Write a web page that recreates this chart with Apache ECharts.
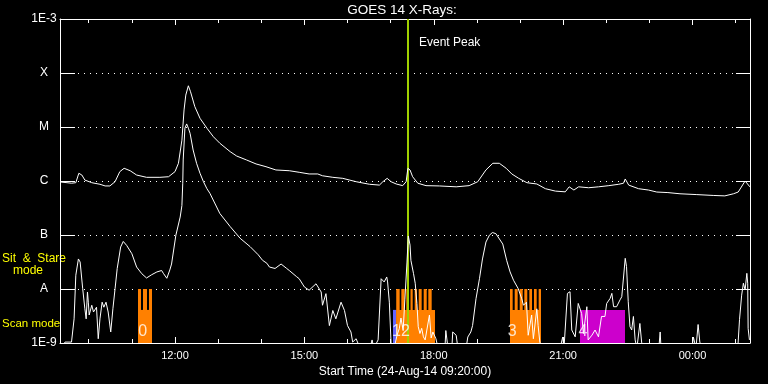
<!DOCTYPE html>
<html><head><meta charset="utf-8">
<script src="https://cdn.jsdelivr.net/npm/echarts@6/dist/echarts.min.js"></script>
<style>html,body{margin:0;padding:0;background:#000;}#c{width:768px;height:384px;}</style>
</head><body><div id="c"></div>
<script>
// ---------- axes / labels ----------
const startHour = 9 + 20 / 60;          // 09:20
const endHour = startHour + 16;          // 01:20 next day
const eventPeakHour = 17.396;
const majorTickHours = [12, 15, 18, 21, 24];
const majorTickLabels = ['12:00', '15:00', '18:00', '21:00', '00:00'];
const minorTickHours = [10, 11, 12, 13, 14, 15, 16, 17, 18, 19, 20, 21, 22, 23, 24, 25];
const yMin = 1e-9, yMax = 1e-3;
const yTickLabels = ['1E-9', 'A', 'B', 'C', 'M', 'X', '1E-3'];
const titleText = 'GOES 14 X-Rays:';
const xAxisTitle = 'Start Time (24-Aug-14 09:20:00)';
const eventText = 'Event Peak';
const modeText1 = 'Sit  &  Stare';
const modeText2 = 'mode';
const modeText3 = 'Scan mode';

// ---------- long channel (upper curve) ----------
const upperT = [9.34,9.60,9.70,9.77,9.84,9.91,10.07,10.26,10.38,10.49,
 10.61,10.72,10.82,10.96,11.11,11.34,11.65,11.85,12.00,12.08,
 12.16,12.21,12.25,12.31,12.36,12.46,12.58,12.74,12.89,13.04,
 13.28,13.43,13.66,13.88,14.11,14.34,14.65,14.88,15.11,15.31,
 15.42,15.66,15.89,16.20,16.51,16.74,16.82,16.92,17.01,17.13,
 17.28,17.36,17.40,17.45,17.51,17.63,17.82,18.13,18.52,18.82,
 19.02,19.21,19.37,19.52,19.68,19.81,19.97,20.16,20.39,20.59,
 20.82,21.05,21.14,21.25,21.36,21.59,21.82,22.06,22.29,22.40,
 22.44,22.52,22.75,22.98,23.17,23.43,23.71,24.10,24.48,24.75,
 24.95,25.06,25.22,25.33];
const upperV = [9.6e-7,9.1e-7,9.3e-7,1.39e-6,1.29e-6,1.04e-6,9.3e-7,8.7e-7,8.1e-7,8.1e-7,
 9.7e-7,1.49e-6,1.72e-6,1.55e-6,1.29e-6,1.17e-6,1.17e-6,1.20e-6,1.49e-6,2.13e-6,
 5.7e-6,2.07e-5,3.9e-5,5.8e-5,4.5e-5,2.38e-5,1.45e-5,9.5e-6,6.6e-6,5.0e-6,
 3.49e-6,2.9e-6,2.45e-6,2.07e-6,1.84e-6,1.60e-6,1.55e-6,1.45e-6,1.35e-6,1.35e-6,
 1.25e-6,1.17e-6,1.12e-6,9.7e-7,8.7e-7,8.4e-7,9.7e-7,1.12e-6,9.7e-7,8.8e-7,
 8.2e-7,9.7e-7,1.72e-6,1.60e-6,1.20e-6,9.1e-7,8.2e-7,8.1e-7,7.8e-7,8.2e-7,
 9.7e-7,1.60e-6,2.13e-6,2.13e-6,1.72e-6,1.35e-6,1.12e-6,9.3e-7,8.8e-7,7.2e-7,
 6.5e-7,6.3e-7,7.8e-7,6.8e-7,7.8e-7,7.5e-7,7.8e-7,8.2e-7,8.7e-7,9.1e-7,
 1.09e-6,8.4e-7,7.2e-7,6.8e-7,6.25e-7,6.1e-7,5.8e-7,5.6e-7,5.4e-7,5.3e-7,
 5.8e-7,6.25e-7,1.0e-6,7.8e-7];

// ---------- short channel (lower curve) ----------
const lowerT = [9.33,9.45,9.60,9.66,9.70,9.76,9.80,9.86,9.91,9.94,
 9.97,9.99,10.01,10.07,10.11,10.18,10.22,10.26,10.31,10.35,
 10.40,10.45,10.51,10.56,10.61,10.66,10.74,10.80,10.88,11.00,
 11.11,11.23,11.34,11.46,11.58,11.69,11.73,11.81,11.88,11.92,
 12.02,12.12,12.16,12.18,12.19,12.23,12.27,12.31,12.35,12.42,
 12.50,12.58,12.66,12.74,12.81,13.04,13.28,13.51,13.74,13.93,
 14.03,14.13,14.19,14.32,14.46,14.59,14.65,14.82,14.88,14.97,
 15.00,15.11,15.27,15.36,15.39,15.42,15.50,15.58,15.66,15.73,
 15.85,15.93,16.00,16.08,16.12,16.20,16.29,16.52,16.57,16.61,
 16.71,16.78,16.82,16.85,16.91,16.93,16.97,17.01,17.08,17.15,
 17.20,17.24,17.29,17.33,17.38,17.41,17.45,17.47,17.53,17.57,
 17.61,17.64,17.68,17.72,17.76,17.80,17.90,17.94,17.98,18.05,
 18.10,18.26,18.28,18.33,18.42,18.44,18.52,18.56,18.75,18.79,
 18.86,18.90,18.98,
 19.06,19.13,19.21,19.29,19.36,19.44,19.60,19.69,19.77,19.85,
 19.96,20.04,20.08,20.15,20.19,20.27,20.31,20.39,20.42,20.46,
 20.51,20.93,20.99,21.02,21.10,21.16,21.20,21.28,21.35,21.39,
 21.43,21.47,21.55,21.58,21.67,21.74,21.82,21.89,21.97,22.01,
 22.09,22.13,22.17,22.24,22.32,22.36,22.40,22.44,22.47,22.51,
 22.55,22.59,22.63,22.67,22.71,22.78,22.82,22.85,23.22,23.25,
 23.27,23.99,24.02,24.08,24.13,24.17,24.22,25.05,25.09,25.14,
 25.18,25.22,25.26,25.28,25.29,25.32];
const lowerV = [7.4e-10,1.04e-9,1.04e-9,2.8e-9,1.8e-8,3.6e-8,3.16e-8,1.01e-8,4.3e-9,2.8e-9,
 8.8e-9,5.7e-9,3.3e-9,5.0e-9,3.75e-9,4.6e-9,1.2e-9,2.8e-9,5.7e-9,4.6e-9,
 5.7e-9,3.75e-9,1.6e-9,4.3e-9,1.01e-8,2.4e-8,6.0e-8,7.6e-8,6.4e-8,4.5e-8,
 2.55e-8,1.92e-8,1.6e-8,1.84e-8,2.07e-8,2.2e-8,1.95e-8,1.58e-8,2.25e-8,2.9e-8,
 9.9e-8,2.15e-7,3.5e-7,9.1e-7,2.45e-6,9.5e-6,1.14e-5,9.5e-6,7.6e-6,3.75e-6,
 2.13e-6,1.39e-6,9.7e-7,7.2e-7,5.9e-7,2.5e-7,1.43e-7,8.7e-8,6.1e-8,4.3e-8,
 3.4e-8,3.0e-8,2.55e-8,2.4e-8,2.9e-8,2.4e-8,2.2e-8,1.69e-8,1.55e-8,1.19e-8,
 1.09e-8,9.5e-9,1.25e-8,9.6e-9,8.8e-9,5.0e-9,8.2e-9,2.1e-9,4.0e-9,2.8e-9,
 5.7e-9,4.0e-9,2.1e-9,1.6e-9,1.04e-9,1.2e-9,8e-10,8e-10,1.14e-9,8e-10,
 1.14e-9,1.55e-8,1.67e-8,1.35e-8,1.67e-8,1.35e-8,5.7e-9,1.0e-9,8e-10,1.4e-9,
 1.84e-9,2.9e-9,1.7e-9,6.3e-9,3.16e-8,9.6e-8,6.5e-8,3.4e-8,1.95e-8,1.28e-8,
 5.4e-9,2.0e-9,1.5e-9,1.87e-9,1.3e-9,1.14e-9,3.3e-9,1.24e-9,1.6e-9,1.2e-9,
 8e-10,8e-10,1.7e-9,8e-10,8e-10,1.6e-9,1.39e-9,8e-10,8e-10,1.29e-9,
 1.6e-9,2.1e-9,6.6e-9,
 1.55e-8,3.6e-8,7.4e-8,9.9e-8,1.11e-7,1.06e-7,6.8e-8,3.4e-8,2.07e-8,1.45e-8,
 1.01e-8,6.6e-9,5.0e-9,5.7e-9,1.39e-9,3.3e-9,1.2e-9,4.3e-9,2.1e-9,1.04e-9,
 8e-10,8e-10,1.29e-9,8e-10,8.3e-9,8.9e-9,1.74e-9,1.3e-9,5.4e-9,5.8e-9,
 3.5e-9,1.5e-9,4.7e-9,1.14e-9,1.4e-9,1.74e-9,1.3e-9,3.1e-9,3.1e-9,5.4e-9,
 6.7e-9,8.3e-9,4.7e-9,4.7e-9,6.3e-9,7.2e-9,7.7e-9,3.7e-8,2.6e-8,5.8e-9,
 2.0e-9,1.74e-9,3.1e-9,1.14e-9,8e-10,2.3e-9,1.04e-9,8e-10,8e-10,1.6e-9,
 8e-10,8e-10,1.29e-9,8e-10,2.2e-9,1.04e-9,8e-10,8e-10,2.7e-9,7.7e-9,
 1.28e-8,9.6e-9,1.95e-8,1.28e-8,1.87e-9,1.14e-9];

// ---------- observing-mode blocks: [start hour, end hour, top flux] ----------
const orangeBlocks = [
 [11.142, 11.467, 4.1e-9], [11.142, 11.212, 1e-8], [11.258, 11.351, 1e-8], [11.397, 11.467, 1e-8],
 [17.130, 18.029, 4.1e-9], [17.130, 17.210, 1e-8], [17.248, 17.326, 1e-8], [17.363, 17.426, 1e-8],
 [17.461, 17.512, 1e-8], [17.558, 17.612, 1e-8], [17.651, 17.720, 1e-8], [17.767, 17.837, 1e-8],
 [17.874, 17.952, 1e-8],
 [19.768, 20.487, 4.1e-9], [19.768, 19.830, 1e-8], [19.877, 19.946, 1e-8], [19.993, 20.063, 1e-8],
 [20.100, 20.169, 1e-8], [20.216, 20.278, 1e-8], [20.325, 20.387, 1e-8], [20.433, 20.487, 1e-8]
];
const blueBlocks = [[17.055, 17.125, 4.1e-9]];
const magentaBlocks = [[21.391, 22.435, 4.1e-9]];
const blockLabelT = [11.25, 17.24, 19.82, 21.46];
const blockLabelText = ['0', '12', '3', '4'];
const blockLabelV = 1.6e-9;

// ---------- chart ----------
const FONT = '"Liberation Sans", Arial, sans-serif';
const WHITE = '#ffffff';
const chart = echarts.init(document.getElementById('c'), null, {renderer: 'canvas'});

function blockSeries(data, color) {
  return {
    type: 'custom', data: data, clip: true, z: 2, silent: true,
    encode: {x: [0, 1], y: 2},
    renderItem: function (params, api) {
      const a = api.coord([api.value(0), api.value(2)]);
      const b = api.coord([api.value(1), yMin]);
      return {type: 'rect', shape: {x: a[0], y: a[1], width: b[0] - a[0], height: b[1] - a[1]},
              style: {fill: color}};
    }
  };
}

function xAx(pos, ticks, len, showLine, labels) {
  return {
    type: 'value', position: pos, min: startHour, max: endHour,
    axisLine: {show: showLine, lineStyle: {color: WHITE, width: 1}},
    axisTick: {show: true, inside: true, length: len, customValues: ticks, lineStyle: {color: WHITE, width: 1}},
    axisLabel: labels ? {show: true, customValues: majorTickHours, color: WHITE, fontFamily: FONT, fontSize: 11, margin: 7,
      formatter: function (v) { const i = majorTickHours.indexOf(Math.round(v)); return i >= 0 ? majorTickLabels[i] : ''; }} : {show: false},
    splitLine: {show: false},
    name: labels ? xAxisTitle : '', nameLocation: 'middle', nameGap: 18,
    nameTextStyle: {color: WHITE, fontFamily: FONT, fontSize: 12}
  };
}

const option = {
  backgroundColor: '#000000',
  animation: false,
  grid: {left: 60, right: 18, top: 19, bottom: 41, containLabel: false, outerBoundsMode: 'none'},
  xAxis: [
    xAx('bottom', majorTickHours, 6, true, true),
    xAx('bottom', minorTickHours, 4, false, false),
    xAx('top', majorTickHours, 6, true, false),
    xAx('top', minorTickHours, 4, false, false)
  ],
  yAxis: [
    {
      type: 'log', logBase: 10, min: yMin, max: yMax, position: 'left', splitNumber: 6,
      axisLine: {show: true, lineStyle: {color: WHITE, width: 1}},
      axisTick: {show: true, inside: true, length: 15, lineStyle: {color: WHITE, width: 1}},
      axisLabel: {show: true, color: WHITE, fontFamily: FONT, fontSize: 12, align: 'center', margin: 16,
        showMinLabel: true, showMaxLabel: true,
        formatter: function (v) { return yTickLabels[Math.round(Math.log10(v)) + 9] || ''; }},
      splitLine: {show: true, lineStyle: {color: WHITE, width: 1, type: [1, 5]}}
    },
    {
      type: 'log', logBase: 10, min: yMin, max: yMax, position: 'right', splitNumber: 6,
      axisLine: {show: true, lineStyle: {color: WHITE, width: 1}},
      axisTick: {show: true, inside: true, length: 14, lineStyle: {color: WHITE, width: 1}},
      axisLabel: {show: false}, splitLine: {show: false}
    }
  ],
  graphic: [
    {type: 'text', x: 402, y: 10, style: {text: titleText, fill: WHITE, fontFamily: FONT, fontSize: 13.5, align: 'center', verticalAlign: 'middle'}},
    {type: 'text', x: 419, y: 43, style: {text: eventText, fill: WHITE, fontFamily: FONT, fontSize: 12, align: 'left', verticalAlign: 'middle'}},
    {type: 'text', x: 2, y: 259, style: {text: modeText1, fill: '#ffff00', fontFamily: FONT, fontSize: 12, align: 'left', verticalAlign: 'middle'}},
    {type: 'text', x: 13, y: 271, style: {text: modeText2, fill: '#ffff00', fontFamily: FONT, fontSize: 12, align: 'left', verticalAlign: 'middle'}},
    {type: 'text', x: 2, y: 324, style: {text: modeText3, fill: '#ffff00', fontFamily: FONT, fontSize: 11.5, align: 'left', verticalAlign: 'middle'}}
  ],
  series: [
    blockSeries(orangeBlocks, '#ff8000'),
    blockSeries(blueBlocks, '#6464ff'),
    blockSeries(magentaBlocks, '#cc00cc'),
    {
      type: 'line', data: [], z: 3, silent: true,
      markLine: {silent: true, symbol: 'none', label: {show: false}, animation: false,
        lineStyle: {color: '#a0d000', width: 2, type: 'solid'},
        data: [{xAxis: eventPeakHour}]}
    },
    {
      type: 'line', name: 'long', z: 5, silent: true, showSymbol: false, symbol: 'none',
      lineStyle: {color: WHITE, width: 1}, clip: true,
      data: upperT.map(function (t, i) { return [t, upperV[i]]; })
    },
    {
      type: 'line', name: 'short', z: 5, silent: true, showSymbol: false, symbol: 'none',
      lineStyle: {color: WHITE, width: 1}, clip: true,
      data: lowerT.map(function (t, i) { return [t, lowerV[i]]; })
    },
    {
      type: 'scatter', z: 6, silent: true, symbolSize: 0,
      label: {show: true, position: 'inside', color: WHITE, fontFamily: FONT, fontSize: 16,
        formatter: function (p) { return blockLabelText[p.dataIndex]; }},
      data: blockLabelT.map(function (t) { return [t, blockLabelV]; })
    }
  ]
};
chart.setOption(option);
</script>
</body></html>
